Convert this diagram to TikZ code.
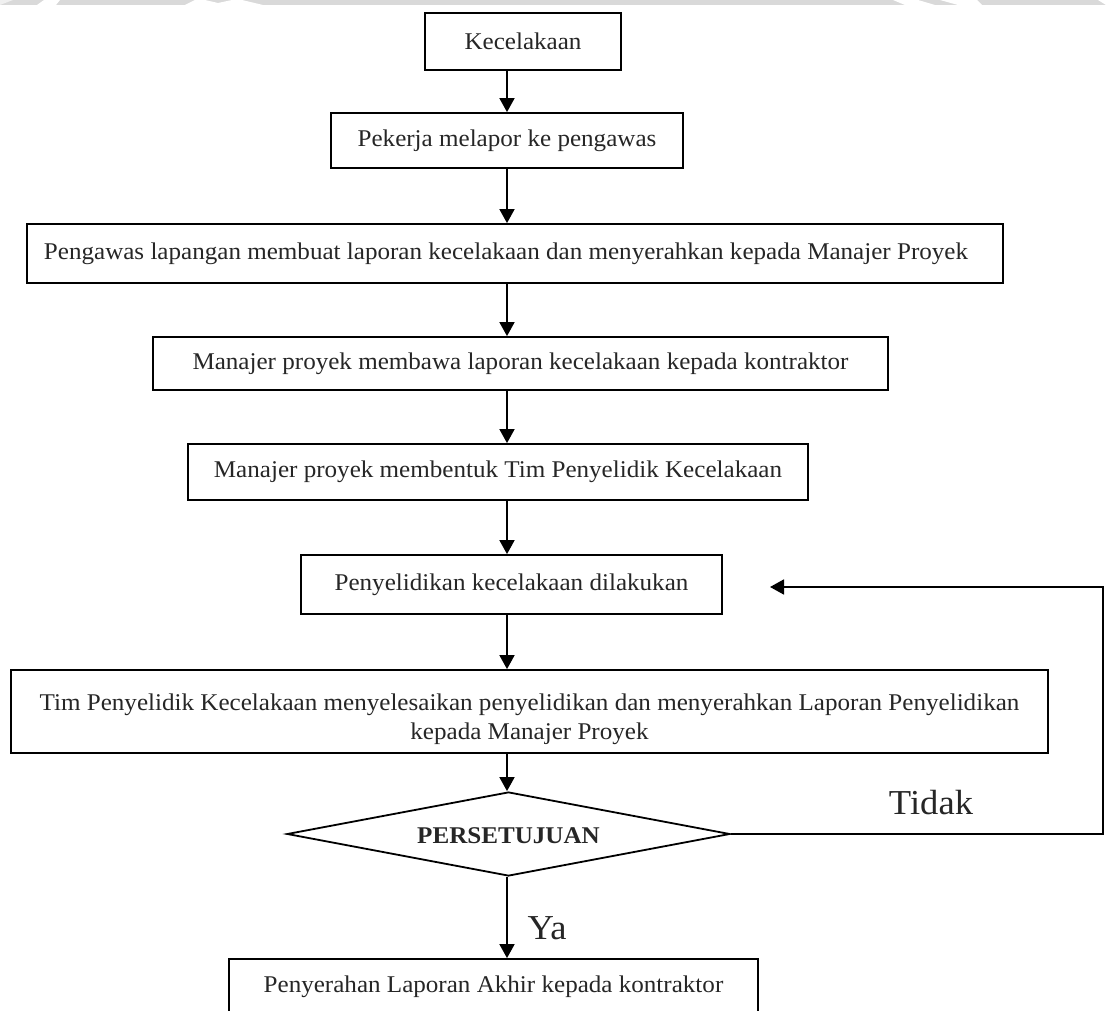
\documentclass[tikz,border=0pt]{standalone}
\usepackage{fontspec}
\setmainfont{Liberation Serif}[FakeStretch=1.045]
\usetikzlibrary{arrows.meta,shapes.geometric}

\tikzset{
  x=1pt, y=-1pt,
  flowbox/.style={draw=black, line width=1.8pt, fill=white, rectangle,
    inner sep=0pt, text=black!85, font=\fontsize{24}{29}\selectfont, align=center},
  decision/.style={draw=black, line width=1.8pt, diamond, aspect=5.27,
    inner sep=0pt, minimum width=443pt, minimum height=84pt},
  flowarrow/.style={draw=black, line width=1.8pt,
    -{Triangle[length=14pt,width=15pt]}},
  biglabel/.style={font=\fontsize{35}{40}\selectfont, text=black!85, inner sep=0pt},
}

\begin{document}
\begin{tikzpicture}
\useasboundingbox (0,0) rectangle (1106,1011);
\clip (0,0) rectangle (1106,1011);

% light grey band along the top edge
\fill[black!15] (0,0) rectangle (1106,5);
\fill[white!60!black!15] (0,0) -- (13,0) -- (0,5) -- cycle;
\fill[white] (44,0) -- (60,0) -- (56,5) -- (37,5) -- cycle;
\fill[white] (195,0) -- (205,0) -- (218,3) -- (232,0) -- (242,0) -- (263,5) -- (185,5) -- cycle;
\fill[white] (893,0) -- (918,0) -- (935,5) -- (905,5) -- cycle;
\fill[white] (940,0) -- (977,0) -- (982,5) -- (958,5) -- cycle;
\fill[white] (1098,0) -- (1106,0) -- (1106,5) -- cycle;

% vertical line carrying the main flow
\coordinate (spine) at (507,0);

% process steps
\node[flowbox, minimum width=196pt, minimum height=57pt] (b1) at (523,41.5) {Kecelakaan};
\node[flowbox, minimum width=352pt, minimum height=55pt] (b2) at (507,140.5) {Pekerja melapor ke pengawas};
\node[flowbox, minimum width=976pt, minimum height=59pt] (b3) at (515,253.5)
  {Pengawas lapangan membuat laporan kecelakaan dan menyerahkan kepada Manajer Proyek\hspace*{18pt}};
\node[flowbox, minimum width=735pt, minimum height=53pt] (b4) at (520.5,363.5)
  {Manajer proyek membawa laporan kecelakaan kepada kontraktor};
\node[flowbox, minimum width=620pt, minimum height=56pt] (b5) at (498,472)
  {Manajer proyek membentuk Tim Penyelidik Kecelakaan};
\node[flowbox, minimum width=421pt, minimum height=59pt] (b6) at (511.5,584.5)
  {Penyelidikan kecelakaan dilakukan};
\node[flowbox, minimum width=1037pt, minimum height=83pt] (b7) at (529.5,711.5)
  {\rule{0pt}{33pt}Tim Penyelidik Kecelakaan menyelesaikan penyelidikan dan menyerahkan Laporan Penyelidikan\\
   kepada Manajer Proyek};

% approval decision
\node[decision] (d) at (508.5,834) {};
\node[font=\fontsize{24}{29}\selectfont\bfseries, text=black!85] (dtext) at (508.5,836) {PERSETUJUAN};

% final step
\node[flowbox, minimum width=529pt, minimum height=56pt] (b8) at (493.5,987)
  {Penyerahan Laporan Akhir kepada kontraktor};

% main flow arrows
\draw[flowarrow] (b1.south -| spine) -- (b2.north -| spine);
\draw[flowarrow] (b2.south -| spine) -- (b3.north -| spine);
\draw[flowarrow] (b3.south -| spine) -- (b4.north -| spine);
\draw[flowarrow] (b4.south -| spine) -- (b5.north -| spine);
\draw[flowarrow] (b5.south -| spine) -- (b6.north -| spine);
\draw[flowarrow] (b6.south -| spine) -- (b7.north -| spine);
\draw[flowarrow] (b7.south -| spine) -- (d.north -| spine);
\draw[flowarrow] (d.south -| spine) -- (b8.north -| spine);

% rejection loop back to the investigation step
\coordinate (loop) at (1103,587);
\coordinate (ret) at (770,587);
\draw[flowarrow] (d.east) -| (loop) -- (ret);

% branch labels
\node[biglabel] (tidak) at (931,803) {Tidak};
\node[biglabel] (ya) at (547,928) {Ya};
\end{tikzpicture}
\end{document}
